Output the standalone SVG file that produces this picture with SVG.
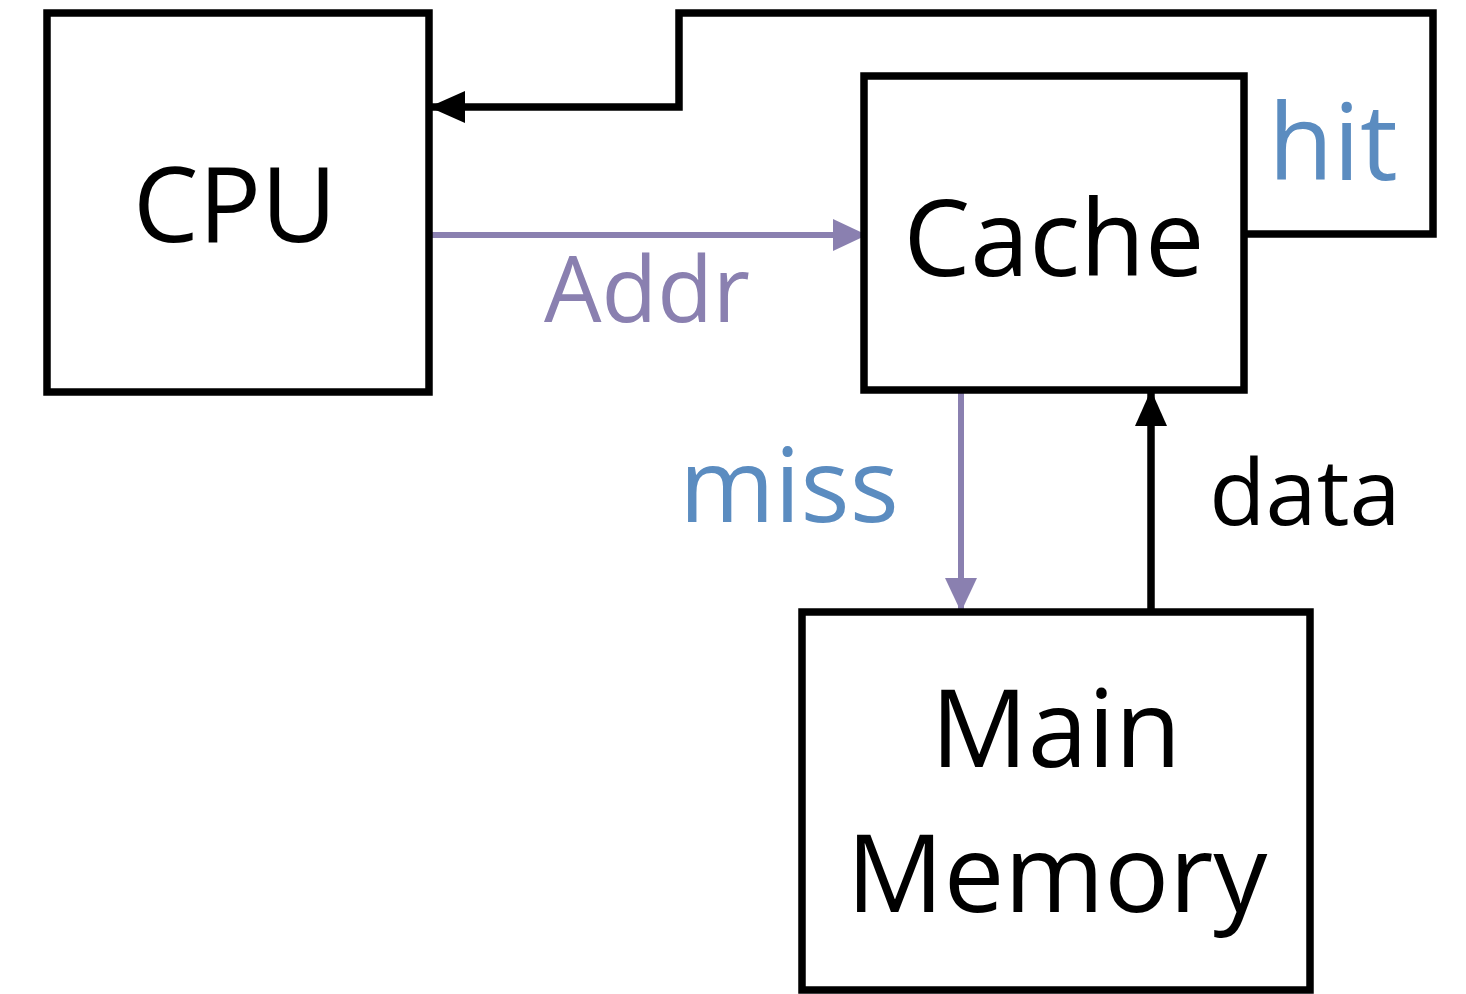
<svg xmlns="http://www.w3.org/2000/svg" width="1466" height="994" viewBox="0 0 1466 994">
<style>
.box{fill:#fff;stroke:#000;stroke-width:7.5}
.t{font-family:"Open Sans","Liberation Sans",sans-serif;text-anchor:middle}
.blk{stroke:#000;stroke-width:7.5;fill:none}
.pur{stroke:#8a80b0;stroke-width:6;fill:none}
</style>
<defs>
<marker id="ab" markerUnits="userSpaceOnUse" markerWidth="38" markerHeight="38" refX="33" refY="19" orient="auto"><path d="M0,3 L36,19 L0,35 Z" fill="#000"/></marker>
<marker id="ap" markerUnits="userSpaceOnUse" markerWidth="38" markerHeight="38" refX="31" refY="19" orient="auto"><path d="M0,3 L34,19 L0,35 Z" fill="#8a80b0"/></marker>
</defs>
<rect width="1466" height="994" fill="#fff"/>
<g id="connectors">
<path class="blk" d="M1244,234 H1433 V13 H679 V107 H432" marker-end="url(#ab)"/>
<path class="pur" d="M429,235 H864" marker-end="url(#ap)"/>
<path class="pur" d="M961,390 V609" marker-end="url(#ap)"/>
<path class="blk" d="M1151,612 V393" marker-end="url(#ab)"/>
</g>
<g id="cpu"><rect class="box" x="47" y="13" width="382" height="379"/><text class="t" x="235" y="242" font-size="104">CPU</text></g>
<g id="cache"><rect class="box" x="864" y="76" width="380" height="314"/><text class="t" x="1054" y="276" font-size="106">Cache</text></g>
<g id="memory"><rect class="box" x="802" y="612" width="508" height="378"/><text class="t" x="1056" y="767" font-size="108">Main</text><text class="t" x="1057" y="912" font-size="108">Memory</text></g>
<g id="labels">
<text class="t" x="647" y="322" font-size="91" fill="#8a80b0">Addr</text>
<text class="t" x="1333" y="180" font-size="106" fill="#5b8cc0">hit</text>
<text class="t" x="789" y="522" font-size="103" fill="#5b8cc0">miss</text>
<text class="t" x="1305" y="525" font-size="92" fill="#000">data</text>
</g>
</svg>
